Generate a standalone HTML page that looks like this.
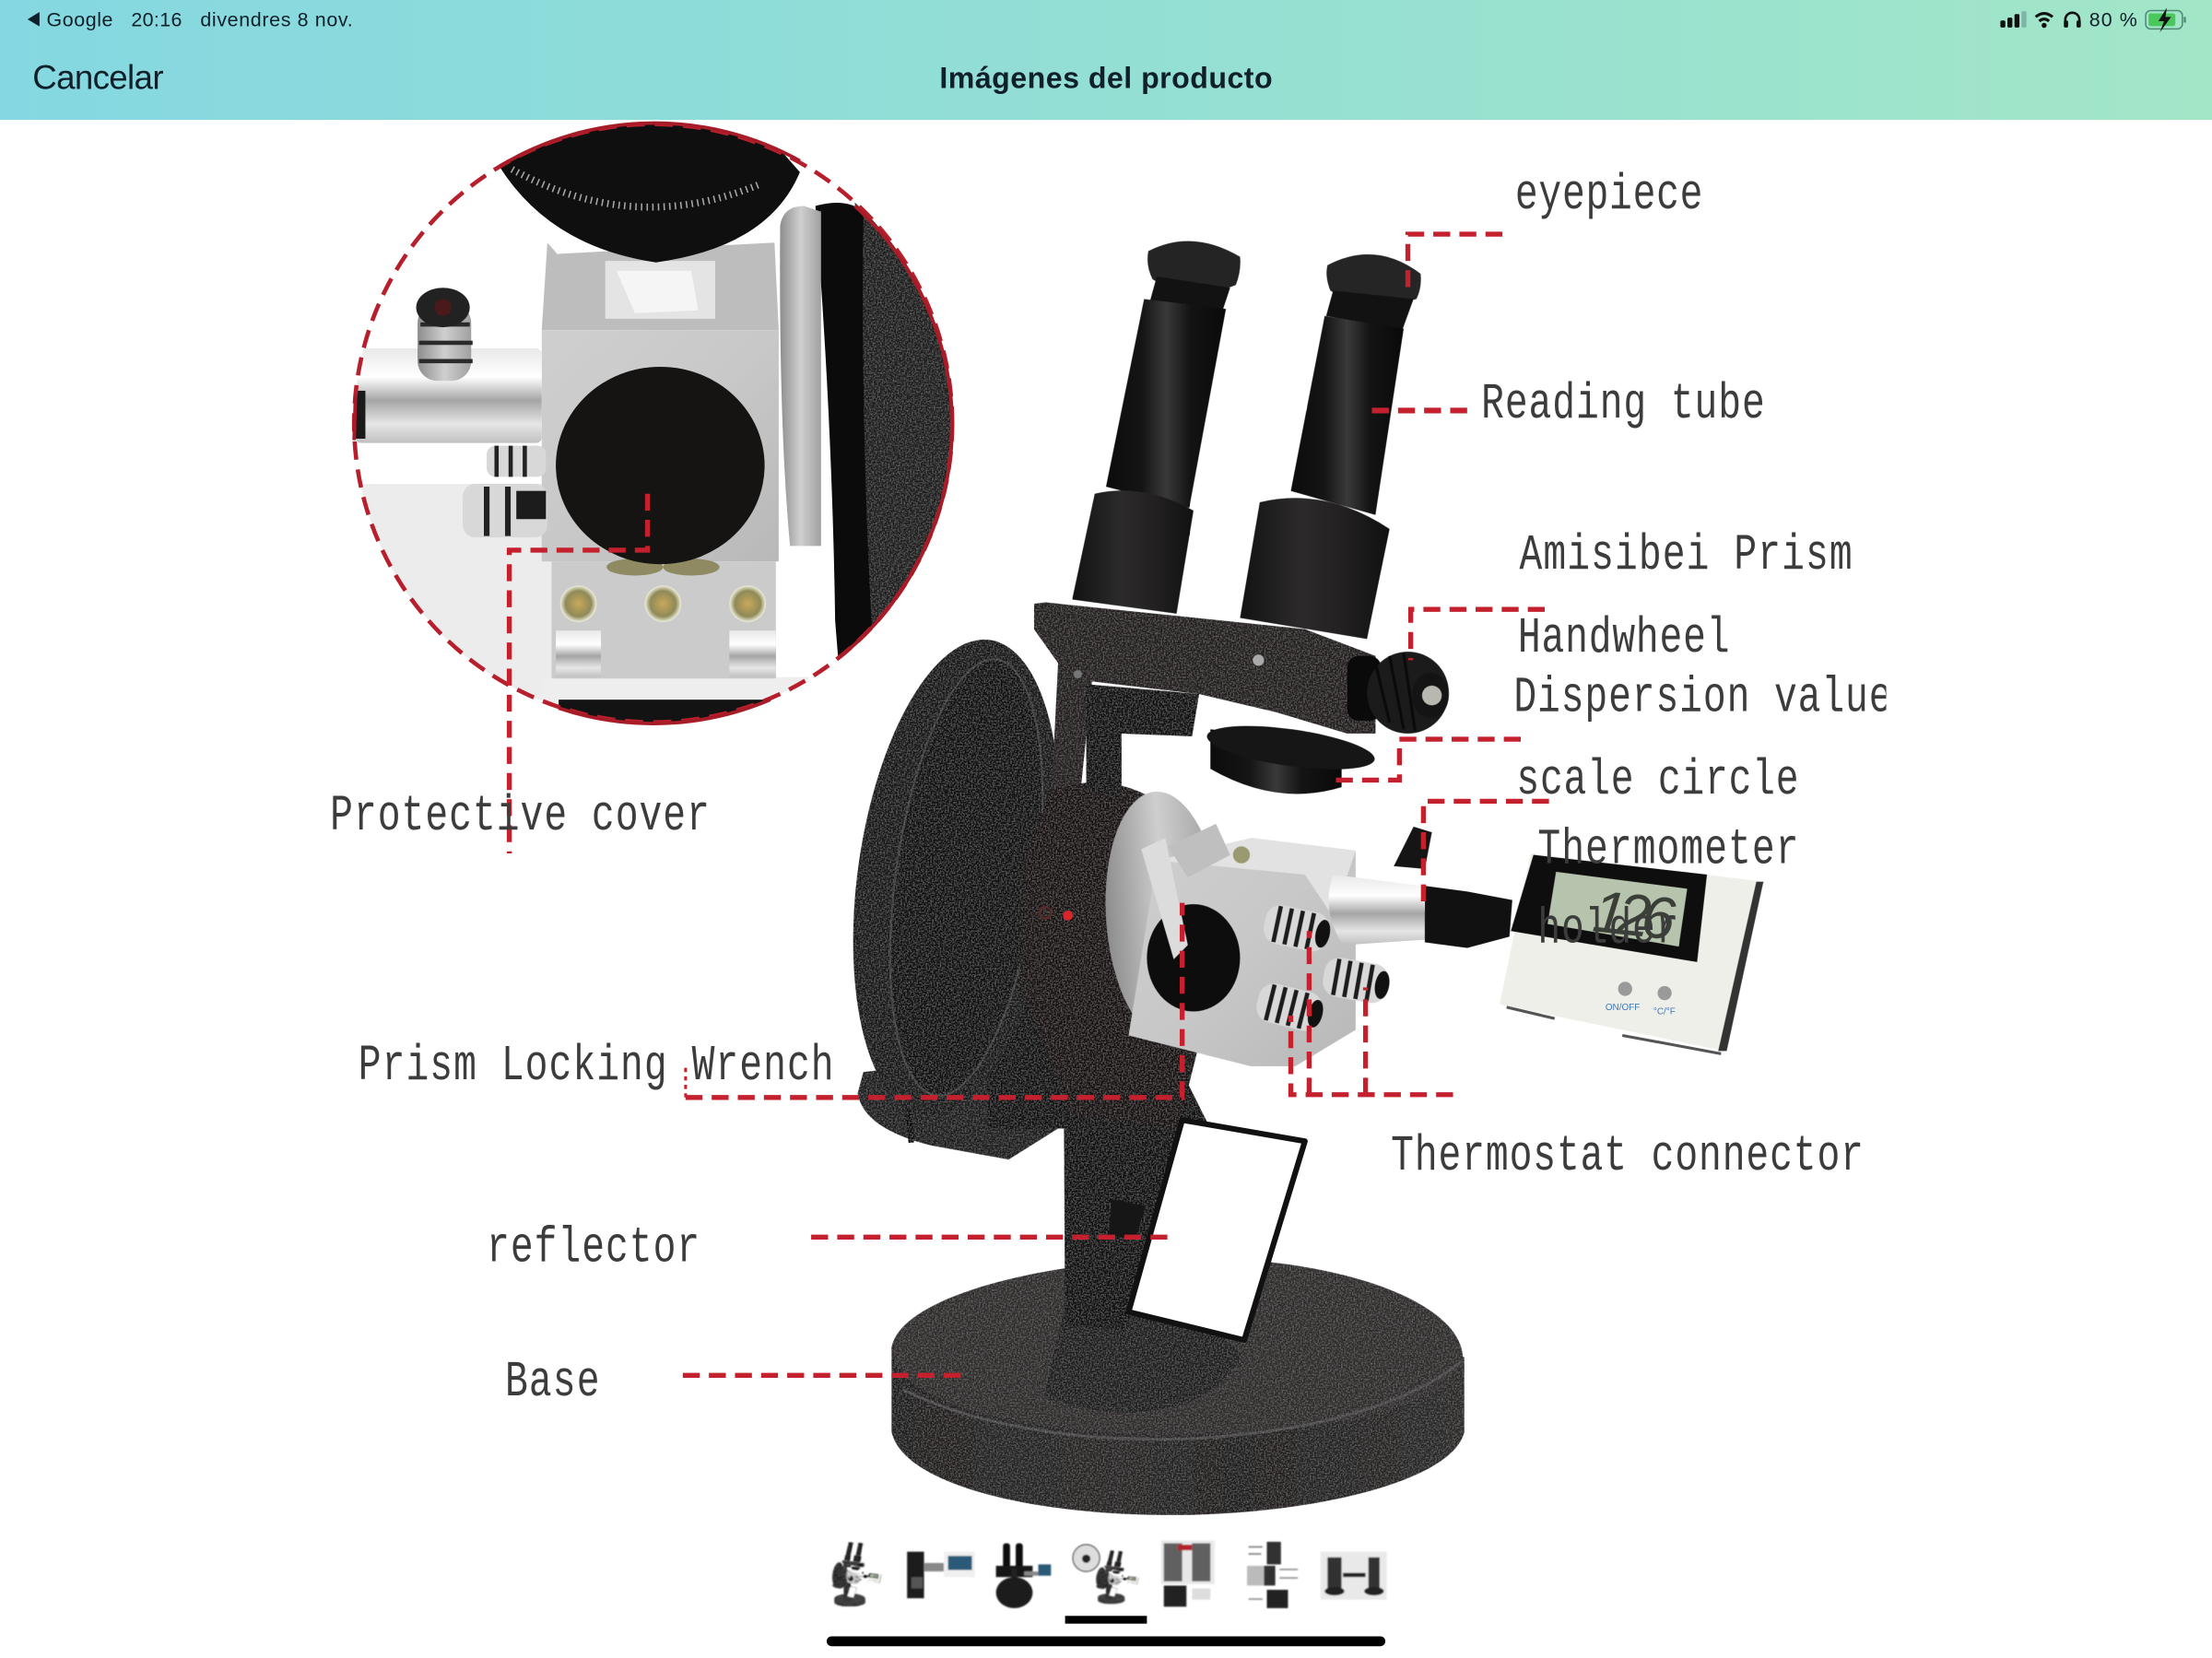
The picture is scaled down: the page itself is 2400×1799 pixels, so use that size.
<!DOCTYPE html>
<html><head><meta charset="utf-8"><style>
html,body{margin:0;padding:0;background:#fff;width:2400px;height:1799px;overflow:hidden}
svg{display:block}
.l{font-family:"Liberation Mono",monospace;font-size:27px;fill:#3c3c3c}
.s{font-family:"Liberation Sans",sans-serif;fill:#10202a}
</style></head><body>
<svg xmlns="http://www.w3.org/2000/svg" width="2400" height="1799" viewBox="0 0 1568 1175.36">
<defs>
<linearGradient id="hdr"><stop offset="0" stop-color="#85d8e1"/><stop offset="1" stop-color="#a2e6c8"/></linearGradient>
<linearGradient id="tube"><stop offset="0" stop-color="#0c0c0c"/><stop offset=".3" stop-color="#151515"/><stop offset=".5" stop-color="#3a3a3a"/><stop offset=".7" stop-color="#141414"/><stop offset="1" stop-color="#0a0a0a"/></linearGradient>
<linearGradient id="tube2"><stop offset="0" stop-color="#131313"/><stop offset=".4" stop-color="#2c2a2a"/><stop offset=".7" stop-color="#222020"/><stop offset="1" stop-color="#111"/></linearGradient>
<linearGradient id="silv" x1="0" y1="0" x2="0" y2="1"><stop offset="0" stop-color="#e8e8e8"/><stop offset=".3" stop-color="#fff"/><stop offset=".55" stop-color="#a5a5a5"/><stop offset=".8" stop-color="#e6e6e6"/><stop offset="1" stop-color="#c0c0c0"/></linearGradient>
<linearGradient id="blk" x1="0" y1="0" x2="1" y2="1"><stop offset="0" stop-color="#cfcfcf"/><stop offset=".5" stop-color="#c8c8c8"/><stop offset="1" stop-color="#b8b8b8"/></linearGradient>
<linearGradient id="ring"><stop offset="0" stop-color="#8d8d8d"/><stop offset=".5" stop-color="#cfcfcf"/><stop offset="1" stop-color="#a0a0a0"/></linearGradient>
<linearGradient id="side" x1="0" y1="0" x2="1" y2="0"><stop offset="0" stop-color="#1f1d1d"/><stop offset=".4" stop-color="#272525"/><stop offset=".6" stop-color="#1f1d1d"/><stop offset="1" stop-color="#2a2828"/></linearGradient>
<radialGradient id="screw"><stop offset="0" stop-color="#c9a85a"/><stop offset=".7" stop-color="#8f8a58"/><stop offset="1" stop-color="#f0f0e0"/></radialGradient>
<filter id="grain" x="0" y="0" width="100%" height="100%"><feTurbulence type="fractalNoise" baseFrequency=".9" numOctaves="2" seed="4"/><feColorMatrix values="0 0 0 0 1 0 0 0 0 1 0 0 0 0 1 0 0 0 .3 -.125"/><feComposite in2="SourceAlpha" operator="in"/><feMerge><feMergeNode in="SourceGraphic"/><feMergeNode/></feMerge></filter>
<filter id="soft"><feGaussianBlur stdDeviation=".5"/></filter>
<clipPath id="cc"><circle cx="463" cy="300" r="212"/></clipPath>
<clipPath id="dv"><rect x="0" y="0" width="1337" height="1175"/></clipPath>
<g id="barb"><rect x="-23" y="-14" width="46" height="28" rx="11" fill="#d8d8d8"/><path d="M-14 -13 V13 M-6 -13 V13 M2 -13 V13 M10 -13 V13" stroke="#1c1c1c" stroke-width="3"/><ellipse cx="19" cy="0" rx="5" ry="10" fill="#111"/></g>
<g id="scope">
 <g filter="url(#grain)">
  <path d="M632 955 V1015 C640 1052 730 1074 830 1074 C930 1074 1030 1050 1038 1015 V962 Z" fill="url(#side)"/>
  <path d="M632 955 C640 915 760 890 860 892 C960 895 1035 925 1037 962 C1030 1000 930 1018 835 1017 C720 1016 635 995 632 955 Z" fill="#2e2c2c"/>
  <path d="M755 925 L840 925 L880 960 C860 1005 790 1010 740 990 Z" fill="#111" opacity=".55"/>
  <path d="M640 985 C700 1015 780 1022 840 1020 C930 1016 1000 995 1036 965" fill="none" stroke="#4a4848" stroke-width="2"/>
  <path d="M754 760 L838 760 L858 800 L830 860 L797 943 L755 940 Z" fill="#0f0f0f"/>
  <path d="M612 760 L745 745 L750 800 L715 822 L660 812 Q612 800 608 775 Z" fill="#1c1a1a"/>
  <path d="M642 770 L646 810" stroke="#050505" stroke-width="4"/>
  <rect x="700" y="690" width="70" height="110" fill="#0e0e0e"/>
  <ellipse cx="678" cy="622" rx="70" ry="170" transform="rotate(8 678 622)" fill="#141313"/>
  <ellipse cx="685" cy="622" rx="50" ry="156" transform="rotate(8 685 622)" fill="#0d0d0d" stroke="#3c3c3c" stroke-width="1.5"/>
  <path d="M733 428 L741 427 L925 446 L975 465 L975 520 L955 520 L905 505 L850 492 L774 483 L765 570 L745 570 L750 470 L733 446 Z" fill="#221f1f"/>
  <path d="M745 560 Q790 545 826 572 L850 740 L835 800 L760 790 L723 700 L725 610 Z" fill="#131111"/>
  <path d="M770 485 L850 492 L845 522 L795 520 L795 565 L770 560 Z" fill="#0a0a0a"/>
 </g>
 <path d="M814 178 Q845 162 879 182 Q880 192 876 202 Q845 215 817 198 Q812 188 814 178 Z" fill="#242424"/>
 <path d="M820 196 L872 204 L866 222 L815 214 Z" fill="#121212"/>
 <path d="M811 212 L869 219 L843 360 L784 345 Z" fill="url(#tube)"/>
 <path d="M776 350 Q810 342 846 362 L834 435 L760 425 Z" fill="url(#tube2)"/>
 <path d="M941 188 Q975 170 1007 194 Q1008 204 1004 212 Q970 222 943 206 Q939 196 941 188 Z" fill="#252525"/>
 <path d="M945 206 L1002 212 L994 234 L940 224 Z" fill="#121212"/>
 <path d="M939 224 L995 233 L975 365 L915 348 Z" fill="url(#tube)"/>
 <path d="M893 356 Q940 345 985 375 L969 453 L879 438 Z" fill="url(#tube2)"/>
 <circle cx="892" cy="468" r="4" fill="#aaa"/>
 <circle cx="764" cy="478" r="3" fill="#777"/>
 <path d="M858 517 L951 525 L951 558 Q905 572 858 545 Z" fill="url(#tube)"/>
 <ellipse cx="915" cy="530" rx="60" ry="13" transform="rotate(8 915 530)" fill="#161616"/>
 <rect x="955" y="465" width="24" height="46" rx="8" fill="#0a0a0a"/>
 <ellipse cx="998" cy="491" rx="29" ry="29" fill="#1c1b1b"/>
 <path d="M975 470 L985 512 M985 465 L995 517 M995 463 L1003 518" stroke="#0a0a0a" stroke-width="2"/>
 <ellipse cx="1014" cy="493" rx="13" ry="16" fill="#141414"/>
 <circle cx="1015" cy="493" r="7" fill="#b8b8b0"/>
 <ellipse cx="825" cy="650" rx="41" ry="89" fill="url(#ring)" transform="rotate(-4 825 650)"/>
 <polygon points="820,610 887,594 961,603 961,730 918,756 887,756 800,734" fill="url(#blk)"/>
 <polygon points="820,610 887,594 961,603 945,650 925,620" fill="#e2e2e2"/>
 <ellipse cx="846" cy="679" rx="33" ry="38" fill="#0d0d0d"/>
 <path d="M809 602 L826 594 L842 670 L832 680 Z" fill="#dcdcdc"/>
 <path d="M828 600 L862 584 L872 606 L842 622 Z" fill="#bfbfbf"/>
 <circle cx="880" cy="606" r="6" fill="#9a9a70"/>
 <use href="#barb" transform="translate(919 658) rotate(12)"/>
 <use href="#barb" transform="translate(914 714) rotate(14)"/>
 <use href="#barb" transform="translate(961 695) rotate(10)"/>
 <path d="M945 620 L1008 628 L1012 666 L952 670 Q936 645 945 620 Z" fill="url(#silv)"/>
 <path d="M1010 628 L1040 632 L1072 638 L1070 664 L1040 672 L1010 668 Z" fill="#111"/>
 <path d="M988 614 L1002 586 L1015 590 L1010 616 Z" fill="#151515"/>
 <polygon points="1085,605 1250,625 1222,745 1063,712" fill="#efefea"/>
 <polygon points="1250,625 1245,625 1218,745 1224,745" fill="#333"/>
 <polygon points="1087,606 1210,620 1203,682 1071,660" fill="#0e0e0e"/>
 <polygon points="1103,618 1196,630 1190,671 1097,655" fill="#b7c4ad"/>
 <text x="1128" y="660" font-family="Liberation Sans,sans-serif" font-size="42" fill="#3a3f38" transform="rotate(6 1128 660)" textLength="58" font-style="italic">126</text>
 <circle cx="1152" cy="701" r="5" fill="#9a9a9a"/><circle cx="1180" cy="704" r="5" fill="#9a9a9a"/>
 <text x="1138" y="716" font-family="Liberation Sans,sans-serif" font-size="6.5" fill="#3f78b8">ON/OFF</text>
 <text x="1172" y="719" font-family="Liberation Sans,sans-serif" font-size="6.5" fill="#3f78b8">°C/°F</text>
 <path d="M1068 714 L1102 722 M1150 734 L1220 747" stroke="#555" stroke-width="2"/>
 <path d="M838 794 L925 809 L882 950 L800 930 Z" fill="#fff" stroke="#111" stroke-width="4" stroke-linejoin="round"/>
 <path d="M788 850 L812 855 L805 878 L786 876 Z" fill="#161616"/>
</g>
</defs>

<rect width="1568" height="1176" fill="#fff"/>
<rect width="1568" height="85" fill="url(#hdr)"/>
<polygon points="19.5,13.7 28,8.5 28,18.7" fill="#10202a"/>
<text class="s" x="33" y="18.5" font-size="14" textLength="47">Google</text>
<text class="s" x="93" y="18.5" font-size="14" textLength="36">20:16</text>
<text class="s" x="142" y="18.5" font-size="14" textLength="108">divendres 8 nov.</text>
<text class="s" x="23" y="63" font-size="24" textLength="93">Cancelar</text>
<text class="s" x="666" y="62.5" font-size="21" font-weight="bold" textLength="236">Imágenes del producto</text>
<rect x="1418" y="14.5" width="3.5" height="5" rx="1" fill="#111"/><rect x="1423" y="12.5" width="3.5" height="7" rx="1" fill="#111"/><rect x="1428" y="10" width="3.5" height="9.5" rx="1" fill="#111"/><rect x="1433" y="8" width="3.5" height="11.5" rx="1" fill="#7fb5a8"/>
<path d="M1443 12 Q1449 7 1455 12 M1445.5 15 Q1449 12 1452.5 15" fill="none" stroke="#111" stroke-width="2"/><circle cx="1449" cy="18" r="1.8" fill="#111"/>
<path d="M1464 18 V14 A5 5 0 0 1 1474 14 V18" fill="none" stroke="#111" stroke-width="1.7"/><rect x="1463" y="14.5" width="3" height="5" rx="1" fill="#111"/><rect x="1472" y="14.5" width="3" height="5" rx="1" fill="#111"/>
<text class="s" x="1481" y="18.5" font-size="14" textLength="34">80 %</text>
<rect x="1521" y="7.5" width="26" height="13" rx="3.5" fill="none" stroke="#4d8a72" stroke-width="1"/><rect x="1523" y="9.5" width="19" height="9" rx="1.5" fill="#4bc85c"/><rect x="1548" y="12" width="1.5" height="4" fill="#4d8a72"/>
<polygon points="1536,5.5 1530,15 1534,15 1531,23 1539,12 1535,12" fill="#111"/>

<!-- inset circle -->
<g clip-path="url(#cc)">
 <rect x="251" y="343" width="140" height="170" fill="#ececec"/>
 <rect x="384" y="480" width="220" height="20" fill="#eeeeee"/>
 <path d="M606 130 L690 130 L690 470 L600 470 L615 430 L606 320 Z" fill="#1c1b1b" filter="url(#grain)"/>
 <path d="M578 146 Q600 140 612 150 Q610 300 618 445 L596 490 L592 440 Q590 300 578 146 Z" fill="#0b0b0b"/>
 <path d="M553 160 Q555 146 570 146 L582 150 L582 387 L560 387 Q552 300 553 160 Z" fill="url(#ring)"/>
 <polygon points="388,172 395,180 549,172 552,234 384,234" fill="#bdbdbd"/>
 <polygon points="429,185 507,185 507,226 429,226" fill="#e4e4e4"/>
 <polygon points="437,192 490,192 495,220 450,222" fill="#f5f5f5"/>
 <rect x="384" y="234" width="168" height="164" fill="url(#blk)"/>
 <rect x="391" y="398" width="159" height="83" fill="#cbcbcb"/>
 <rect x="394" y="447" width="32" height="33" fill="url(#silv)"/>
 <rect x="517" y="447" width="33" height="33" fill="url(#silv)"/>
 <circle cx="410" cy="428" r="13" fill="url(#screw)"/><circle cx="470" cy="428" r="13" fill="url(#screw)"/><circle cx="530" cy="428" r="13" fill="url(#screw)"/>
 <ellipse cx="450" cy="402" rx="20" ry="6" fill="#8f8a62"/><ellipse cx="490" cy="402" rx="20" ry="6" fill="#8f8a62"/>
 <ellipse cx="468" cy="330" rx="74" ry="70" fill="#151413"/>
 <path d="M354 118 Q390 175 465 186 Q545 175 567 122 L530 80 L400 80 Z" fill="#0f0f0f"/>
 <path d="M363 120 Q450 168 540 130" fill="none" stroke="#aaa" stroke-width="5" stroke-dasharray="1 3"/>
 <rect x="252" y="247" width="132" height="67" rx="4" fill="url(#silv)"/>
 <rect x="251" y="277" width="8" height="34" fill="#1a1a1a"/>
 <rect x="296" y="215" width="38" height="55" rx="14" fill="url(#ring)"/>
 <path d="M298 230 H333 M297 243 H335 M297 256 H335" stroke="#2a2a2a" stroke-width="3"/>
 <ellipse cx="314" cy="218" rx="19" ry="14" fill="#222"/><circle cx="314" cy="218" r="6" fill="#4a1a1a"/>
 <rect x="345" y="316" width="42" height="22" rx="6" fill="#d8d8d8"/>
 <path d="M352 316 V338 M362 316 V338 M372 316 V338" stroke="#222" stroke-width="3"/>
 <rect x="328" y="343" width="60" height="38" rx="9" fill="#d8d8d8"/>
 <path d="M345 345 V380 M360 345 V380" stroke="#222" stroke-width="4"/><rect x="366" y="348" width="21" height="20" fill="#1c1c1c"/>
 <rect x="396" y="496" width="150" height="20" fill="#131313"/>
</g>
<circle cx="463" cy="300" r="212" fill="none" stroke="#b71f2c" stroke-width="3" stroke-dasharray="13 7"/>
<path d="M606 146 A212 212 0 0 1 675 300 A212 212 0 0 1 595 466 M396 502 A212 212 0 0 0 546 496 M252 280 L251 312 M354 118 A212 212 0 0 1 567 114" fill="none" stroke="#a81c28" stroke-width="2.5"/>

<use href="#scope"/>

<g fill="none" stroke="#c5202e" stroke-width="3.5" stroke-dasharray="12 6.5">
 <path d="M1065 166 H998 V205"/>
 <path d="M1040 291 H966" stroke-width="4"/>
 <path d="M1095 432 H1000 V468"/>
 <path d="M1078 524 H992 V553 H945"/>
 <path d="M1098 568 H1009 V640"/>
 <path d="M459 350 V390 H361 V605"/>
 <path d="M486 778 H838 V640"/>
 <path d="M486 757 V780" stroke-width="2" stroke-dasharray="3 3"/>
 <path d="M1030 776 H915 V720"/>
 <path d="M928 776 V660"/>
 <path d="M968 776 V700"/>
 <path d="M575 877 H830"/>
 <path d="M484 975 H683"/>
</g>
<circle cx="757" cy="649" r="3.5" fill="#d8262c"/>
<circle cx="741" cy="647" r="4" fill="none" stroke="#5a2a2a" stroke-width="1.5"/>

<!-- labels -->
<g clip-path="url(#dv)">
<text class="l" transform="translate(1074 147.5) scale(1 1.33)" textLength="133">eyepiece</text>
<text class="l" transform="translate(1050 296) scale(1 1.33)" textLength="201">Reading tube</text>
<text class="l" transform="translate(1077 403) scale(1 1.33)" textLength="236">Amisibei Prism</text>
<text class="l" transform="translate(1076 462) scale(1 1.33)" textLength="150">Handwheel</text>
<text class="l" transform="translate(1073 504) scale(1 1.33)" textLength="268">Dispersion value</text>
<text class="l" transform="translate(1075 562.5) scale(1 1.33)" textLength="200">scale circle</text>
<text class="l" transform="translate(1090 612) scale(1 1.33)" textLength="185">Thermometer</text>
<text class="l" transform="translate(1090 668) scale(1 1.33)" textLength="100">holder</text>
<text class="l" transform="translate(234 588) scale(1 1.33)" textLength="269">Protective cover</text>
<text class="l" transform="translate(254 765) scale(1 1.33)" textLength="337">Prism Locking Wrench</text>
<text class="l" transform="translate(986 829) scale(1 1.33)" textLength="335">Thermostat connector</text>
<text class="l" transform="translate(345 894) scale(1 1.33)" textLength="151">reflector</text>
<text class="l" transform="translate(358 989) scale(1 1.33)" textLength="67">Base</text>
</g>

<!-- thumbnails -->
<g filter="url(#soft)">
 <use href="#scope" transform="translate(590 1093) scale(.0543 .0507) translate(-606 -167)"/>
 <rect x="643" y="1100" width="12" height="33" fill="#1a1a1a"/>
 <rect x="655" y="1108" width="14" height="6" fill="#888"/>
 <rect x="669" y="1100" width="22" height="18" fill="#f0f0f0"/><rect x="672" y="1103" width="17" height="10" fill="#2b5a78"/>
 <rect x="646" y="1118" width="8" height="8" fill="#555"/>
 <rect x="711" y="1094" width="5" height="22" fill="#111" rx="2"/><rect x="720" y="1094" width="5" height="22" fill="#111" rx="2"/>
 <rect x="706" y="1110" width="26" height="8" fill="#151515"/><rect x="717" y="1112" width="4" height="18" fill="#222"/>
 <rect x="726" y="1114" width="10" height="3" fill="#888"/><rect x="736" y="1109" width="9" height="8" fill="#2b5a78"/>
 <ellipse cx="719" cy="1129" rx="13" ry="11" fill="#1a1a1a"/>
 <circle cx="770" cy="1104.5" r="9.5" fill="#ddd" stroke="#444" stroke-width=".8"/><circle cx="770" cy="1105" r="3" fill="#222"/>
 <use href="#scope" transform="translate(777 1099) scale(.047 .042) translate(-606 -167)"/>
 <rect x="823" y="1092" width="38" height="31" fill="#e8e8e8"/>
 <rect x="825" y="1094" width="13" height="27" fill="#333" opacity=".75"/><rect x="845" y="1094" width="13" height="27" fill="#333" opacity=".75"/>
 <rect x="835" y="1095" width="10" height="4" fill="#b3202c"/>
 <rect x="825" y="1124" width="16" height="15" fill="#222"/><rect x="845" y="1126" width="13" height="8" fill="#ddd"/>
 <rect x="898" y="1093" width="10" height="16" fill="#333"/><rect x="884" y="1110" width="15" height="14" fill="#bbb"/><rect x="896" y="1110" width="8" height="14" fill="#333"/><rect x="898" y="1127" width="15" height="13" fill="#222"/>
 <rect x="885" y="1096" width="10" height="1.2" fill="#888"/><rect x="885" y="1101" width="9" height="1.2" fill="#888"/><rect x="907" y="1112" width="13" height="1.2" fill="#999"/><rect x="907" y="1118" width="13" height="1.2" fill="#999"/><rect x="885" y="1133" width="10" height="1.2" fill="#999"/>
 <rect x="936" y="1100" width="47" height="34" fill="#e9e9e9"/>
 <rect x="941" y="1104" width="10" height="24" fill="#333"/><ellipse cx="946" cy="1128" rx="7" ry="3" fill="#222"/><rect x="970" y="1104" width="8" height="24" fill="#333"/><ellipse cx="974" cy="1128" rx="7" ry="3" fill="#222"/><rect x="952" y="1115" width="16" height="3" fill="#222"/>
</g>
<rect x="755" y="1145.5" width="58" height="5.5" fill="#000"/>
<rect x="586" y="1160" width="396" height="7" rx="3.5" fill="#000"/>
</svg>
</body></html>
